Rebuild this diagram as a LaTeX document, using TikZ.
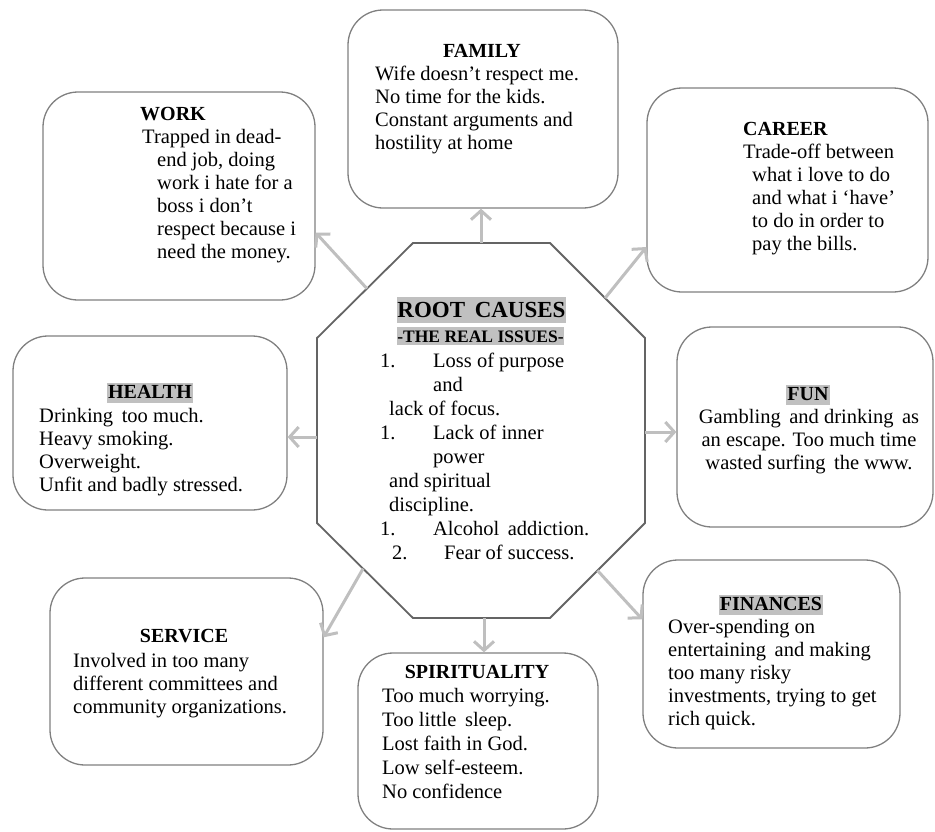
\documentclass[tikz,border=0pt]{standalone}
\usepackage{fontspec}
\setmainfont{Liberation Serif}
\usetikzlibrary{arrows.meta,calc}
\definecolor{boxline}{RGB}{128,128,128}
\definecolor{octline}{RGB}{100,100,100}
\definecolor{arrowgray}{RGB}{191,191,191}
\definecolor{hilite}{RGB}{192,192,192}
\newcommand{\rows}[2][l]{\begin{tabular}[t]{@{}#1@{}}#2\end{tabular}}
\begin{document}
\begin{tikzpicture}[x=1pt,y=-1pt,
  panel/.style={draw=boxline,line width=1.3pt,rounded corners=35pt,inner sep=0pt},
  head/.style={font=\fontsize{20}{23}\selectfont\bfseries,inner sep=0pt,anchor=base},
  headw/.style={head,anchor=base west},
  hl/.style={fill=hilite,inner xsep=1pt,inner ysep=0pt,text height=15pt,text depth=5pt},
  body/.style={font=\fontsize{20.5}{23}\selectfont,inner sep=0pt,anchor=base west},
  bodyc/.style={body,anchor=base},
  bodywide/.style={font=\fontsize{20.5}{24}\selectfont,inner sep=0pt,anchor=base west},
  oct/.style={draw=octline,line width=1.8pt,line join=miter},
  link/.style={draw=arrowgray,line width=3pt,-{Straight Barb[length=9pt,width=20pt]}},
]
\useasboundingbox (0,0) rectangle (935,831);

% panels
\node[panel,minimum width=270pt,minimum height=198pt] (family) at (483,109) {};
\node[panel,minimum width=272pt,minimum height=208pt] (work) at (179,196) {};
\node[panel,minimum width=281pt,minimum height=204pt] (career) at (787.5,190) {};
\node[panel,minimum width=274pt,minimum height=174pt] (health) at (150,423) {};
\node[panel,minimum width=256pt,minimum height=200pt] (fun) at (805,427) {};
\node[panel,minimum width=257pt,minimum height=188pt] (finances) at (771.5,654) {};
\node[panel,minimum width=273pt,minimum height=187pt] (service) at (186.5,671.5) {};
\node[panel,minimum width=240pt,minimum height=176pt] (spirit) at (478,741) {};

% octagon
\coordinate (o1) at (413,243);
\coordinate (o2) at (550,243);
\coordinate (o3) at (645,338);
\coordinate (o4) at (645,523);
\coordinate (o5) at (550,618);
\coordinate (o6) at (413,618);
\coordinate (o7) at (317,523);
\coordinate (o8) at (317,338);
\draw[oct] (o1) -- (o2) -- (o3) -- (o4) -- (o5) -- (o6) -- (o7) -- (o8) -- cycle;

% arrow start points on the octagon
\coordinate (afa) at (481,243);
\coordinate (asp) at (484,618);
\coordinate (ahe) at (317,437);
\coordinate (afu) at (645,432);
\coordinate (awo) at ($(o8)!0.52!(o1)$);
\coordinate (aca) at ($(o2)!0.58!(o3)$);
\coordinate (ase) at ($(o7)!0.48!(o6)$);
\coordinate (afi) at ($(o4)!0.5!(o5)$);

\draw[link] (afa) -- (afa |- family.south);
\draw[link] (asp) -- (asp |- spirit.north);
\draw[link] (ahe) -- (ahe -| health.east);
\draw[link] (afu) -- (afu -| fun.west);
\draw[link] (awo) -- (work.-15);
\draw[link] (aca) -- (career.-158);
\draw[link] (ase) -- (service.14.6);
\draw[link] (afi) -- (finances.165);

% centre text
\node[font=\fontsize{23}{26}\selectfont\bfseries,fill=hilite,inner sep=0pt,text height=20pt,text depth=6pt,minimum width=167pt,anchor=base] (root) at (481.5,317) {ROOT\, CAUSES};
\node[font=\fontsize{17.5}{20}\selectfont\bfseries,fill=hilite,inner sep=0pt,text height=15pt,text depth=3pt,minimum width=167pt,anchor=base] (issues) at (480.5,342) {-THE REAL ISSUES-};
\node[bodywide] (causes) at (380,367) {\rows{\makebox[53pt][l]{1.}Loss of purpose\\
\hspace*{53pt}and\\
\hspace*{9pt}lack of focus.\\
\makebox[53pt][l]{1.}Lack of inner\\
\hspace*{53pt}power\\
\hspace*{9pt}and spiritual\\
\hspace*{9pt}discipline.\\
\makebox[53pt][l]{1.}Alcohol\, addiction.\\
\hspace*{12pt}\makebox[52pt][l]{2.}Fear of success.}};

% FAMILY
\node[head] (familyh) at (482,57) {FAMILY};
\node[body] (familyt) at (375,80) {\rows{Wife doesn’t respect me.\\
No time for the kids.\\
Constant arguments and\\
hostility at home}};

% WORK
\node[headw] (workh) at (140,120) {WORK};
\node[body] (workt) at (142,143) {\rows{Trapped in dead-\\
\hspace*{15pt}end job, doing\\
\hspace*{15pt}work i hate for a\\
\hspace*{15pt}boss i don’t\\
\hspace*{15pt}respect because i\\
\hspace*{15pt}need the money.}};

% CAREER
\node[headw] (careerh) at (743,135) {CAREER};
\node[body] (careert) at (743,158) {\rows{Trade-off between\\
\hspace*{9pt}what i love to do\\
\hspace*{9pt}and what i ‘have’\\
\hspace*{9pt}to do in order to\\
\hspace*{9pt}pay the bills.}};

% HEALTH
\node[head,hl] (healthh) at (150,398) {HEALTH};
\node[body] (healtht) at (39,422) {\rows{Drinking\, too much.\\
Heavy smoking.\\
Overweight.\\
Unfit and badly stressed.}};

% FUN
\node[head,hl] (funh) at (808,400) {FUN};
\node[bodyc] (funt) at (809,423) {\rows[c]{Gambling\, and drinking\, as\\
an escape. Too much time\\
wasted surfing\, the www.}};

% FINANCES
\node[head,hl] (financesh) at (771,610) {FINANCES};
\node[body] (financest) at (668,633) {\rows{Over-spending on\\
entertaining\, and making\\
too many risky\\
investments, trying to get\\
rich quick.}};

% SERVICE
\node[head] (serviceh) at (184,642) {SERVICE};
\node[body] (servicet) at (73,667) {\rows{Involved in too many\\
different committees and\\
community organizations.}};

% SPIRITUALITY
\node[head] (spirith) at (477,678) {SPIRITUALITY};
\node[bodywide] (spiritt) at (382,702) {\rows{Too much worrying.\\
Too little\, sleep.\\
Lost faith in God.\\
Low self-esteem.\\
No confidence}};
\end{tikzpicture}
\end{document}
